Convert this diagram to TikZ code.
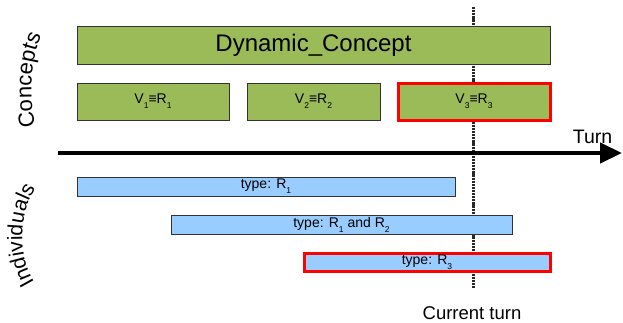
\documentclass[tikz,border=0pt]{standalone}
\usepackage{fontspec}
\setmainfont{Liberation Sans}
\usetikzlibrary{arrows.meta,decorations.text}

\definecolor{conceptgreen}{RGB}{155,187,89}
\definecolor{indivblue}{RGB}{153,204,255}
\definecolor{framegray}{RGB}{51,51,51}
\definecolor{markred}{RGB}{255,0,0}
\definecolor{turngray}{RGB}{40,40,40}

% lowered small index, as in V_1 or R_2
\newcommand{\lowsub}[1]{\raisebox{-0.36em}{\fontsize{8.5}{9}\selectfont #1}}

\tikzset{
  concept/.style={draw=framegray, line width=1pt, fill=conceptgreen, inner sep=0pt},
  indiv/.style={draw=framegray, line width=1pt, fill=indivblue, inner sep=0pt},
  current/.style={draw=markred, line width=3pt},
  boxtext/.style={font=\fontsize{14}{16}\selectfont},
  bigtext/.style={font=\fontsize{18.5}{20}\selectfont, inner sep=0pt},
  turnline/.style={draw=turngray, line width=3pt, dash pattern=on 2.2pt off 0.9pt},
  axisline/.style={line width=4.3pt, -{Triangle[length=22pt,width=20pt]}},
}

\begin{document}
\begin{tikzpicture}[x=1pt, y=-1pt]
  \useasboundingbox (0,0) rectangle (623,322);

  % marker of the current turn, drawn first so that the boxes hide it
  \coordinate (cttop) at (473,7);
  \coordinate (ctbot) at (473,289);
  \draw[turnline] (cttop) -- (ctbot);
  \node[bigtext] (ctlabel) at (472,313) {Current turn};

  % concepts
  \node[concept, minimum width=473pt, minimum height=38pt, font=\fontsize{24}{26}\selectfont]
    (dyn) at (313.5,45) {Dynamic\_Concept};
  \node[concept, boxtext, minimum width=152pt, minimum height=37pt]
    (v1) at (153,101.5) {V\lowsub{1}≡R\lowsub{1}};
  \node[concept, boxtext, minimum width=133pt, minimum height=37pt]
    (v2) at (313.5,101.5) {V\lowsub{2}≡R\lowsub{2}};
  \node[concept, current, boxtext, minimum width=152pt, minimum height=37pt]
    (v3) at (474,101.5) {V\lowsub{3}≡R\lowsub{3}};

  % time axis
  \coordinate (axstart) at (58,153);
  \coordinate (axend) at (622,153);
  \draw[axisline] (axstart) -- (axend);
  \node[bigtext, font=\fontsize{19.5}{21}\selectfont] (turn) at (592.5,137) {Turn};

  % individuals
  \node[indiv, boxtext, minimum width=378pt, minimum height=19pt]
    (i1) at (266,186.5) {type: R\lowsub{1}};
  \node[indiv, boxtext, minimum width=341pt, minimum height=19pt]
    (i2) at (341.5,224.5) {type: R\lowsub{1} and R\lowsub{2}};
  \node[indiv, current, boxtext, minimum width=246pt, minimum height=18pt]
    (i3) at (427,262) {type: R\lowsub{3}};

  % side captions set along arcs
  \path[decorate, decoration={text along path, text align=center,
        text={|\fontsize{22}{22}\selectfont|Concepts}}]
    (37,134) .. controls (30,110) and (27,58) .. (45,29);
  \path[decorate, decoration={text along path, text align=center,
        text={|\fontsize{21}{21}\selectfont|Individuals}}]
    (43,294) .. controls (15,265) and (15,205) .. (45,178);
\end{tikzpicture}
\end{document}
